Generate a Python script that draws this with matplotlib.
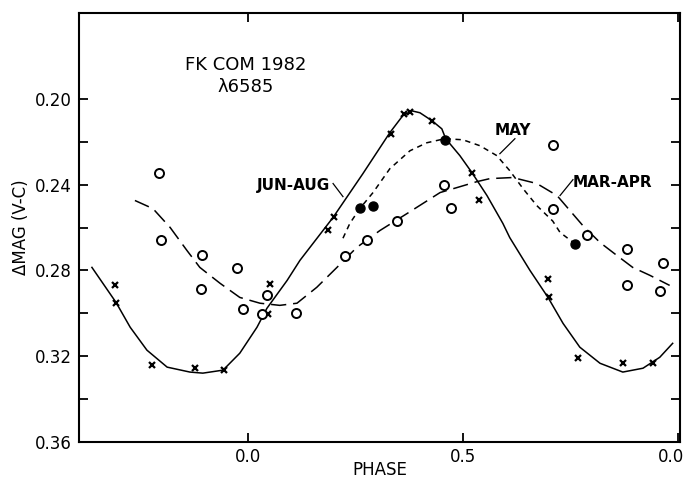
import numpy as np
import matplotlib
matplotlib.use("Agg")
import matplotlib.pyplot as plt
from matplotlib.transforms import ScaledTranslation

plt.rcParams['font.family'] = ['DejaVu Sans']

# JUN-AUG observations (crosses)
jun_phase = [-0.309, -0.307, -0.223, -0.123, -0.056, 0.051, 0.047, 0.186, 0.200,
             0.333, 0.363, 0.377, 0.428, 0.521, 0.537, 0.698, 0.700, 0.767, 0.872, 0.942]
jun_mag = [0.287, 0.295, 0.324, 0.3256, 0.3265, 0.2865, 0.3005, 0.261, 0.255,
           0.2163, 0.207, 0.206, 0.2102, 0.2344, 0.2474, 0.2842, 0.2926, 0.3209, 0.3233, 0.3233]

# MAY observations (filled circles)
may_phase = [0.260, 0.291, 0.458, 0.760]
may_mag = [0.2507, 0.2498, 0.2191, 0.2679]

# MAR-APR observations (open circles)
mar_phase = [-0.207, -0.202, -0.107, -0.109, -0.026, -0.012, 0.033, 0.044, 0.112,
             0.226, 0.277, 0.347, 0.456, 0.472, 0.709, 0.709, 0.788, 0.881, 0.881,
             0.965, 0.958]
mar_mag = [0.2344, 0.2656, 0.2726, 0.2888, 0.2791, 0.2981, 0.3005, 0.2916, 0.300,
           0.2735, 0.266, 0.2572, 0.240, 0.2507, 0.2214, 0.2512, 0.2633, 0.2702, 0.287,
           0.2767, 0.2898]

# fitted curves
jun_curve_x = [-0.363, -0.307, -0.274, -0.235, -0.188, -0.135, -0.105, -0.058, -0.019,
               0.021, 0.044, 0.091, 0.121, 0.198, 0.267, 0.330, 0.360, 0.381, 0.400,
               0.428, 0.451, 0.460, 0.493, 0.521, 0.556, 0.593, 0.609, 0.656, 0.698,
               0.733, 0.772, 0.819, 0.872, 0.919, 0.958, 0.988]
jun_curve_y = [0.2786, 0.2949, 0.3065, 0.3172, 0.3251, 0.3274, 0.3279, 0.3265, 0.3186,
               0.3065, 0.2977, 0.2847, 0.2753, 0.2553, 0.2350, 0.2158, 0.2079, 0.2056, 0.2065,
               0.2102, 0.2140, 0.2186, 0.2265, 0.2344, 0.2451, 0.2581, 0.2647, 0.2800, 0.2926,
               0.3047, 0.3158, 0.3233, 0.3274, 0.3256, 0.3205, 0.3140]

may_curve_x = [0.221, 0.237, 0.260, 0.291, 0.330, 0.377, 0.416, 0.458, 0.500, 0.540,
               0.579, 0.609, 0.640, 0.672, 0.709, 0.726, 0.763]
may_curve_y = [0.2650, 0.2581, 0.2512, 0.2437, 0.2326, 0.2242, 0.2205, 0.2186, 0.2191, 0.2219,
               0.2265, 0.2335, 0.2419, 0.2498, 0.2570, 0.2623, 0.2679]

mar_curve_x = [-0.263, -0.221, -0.181, -0.142, -0.112, -0.065, -0.019, 0.028, 0.074,
               0.114, 0.160, 0.207, 0.253, 0.307, 0.370, 0.447, 0.486, 0.533, 0.563,
               0.616, 0.672, 0.719, 0.749, 0.779, 0.819, 0.858, 0.895, 0.935, 0.981]
mar_curve_y = [0.2474, 0.2512, 0.2600, 0.2707, 0.2786, 0.2860, 0.2926, 0.2953, 0.2963,
               0.2953, 0.2879, 0.2786, 0.2693, 0.2614, 0.2535, 0.2437, 0.2414, 0.2386, 0.2372,
               0.2367, 0.2395, 0.2451, 0.2521, 0.2591, 0.2670, 0.2730, 0.2786, 0.2823, 0.2870]

fig = plt.figure(figsize=(6.89, 4.82), dpi=100)
ax = fig.add_axes([0.1147, 0.083, 0.8722, 0.890])

ax.plot(jun_curve_x, jun_curve_y, color='black', lw=1.1)
ax.plot(may_curve_x, may_curve_y, color='black', lw=1.1, linestyle=(0, (3.5, 3)))
ax.plot(mar_curve_x, mar_curve_y, color='black', lw=1.1, linestyle=(0, (10, 4.5)))

ax.plot(jun_phase, jun_mag, 'x', color='black', ms=5, mew=1.6)
ax.plot(may_phase, may_mag, 'o', color='black', ms=6.5)
ax.plot(mar_phase, mar_mag, 'o', mfc='white', mec='black', ms=6.5, mew=1.4)

# curve labels with leaders
ax.text(0.105, 0.2405, 'JUN-AUG', fontsize=11, ha='center', va='center', fontweight='bold')
ax.plot([0.198, 0.221], [0.2395, 0.2456], color='black', lw=0.9)
ax.text(0.616, 0.2149, 'MAY', fontsize=11, ha='center', va='center', fontweight='bold')
ax.plot([0.621, 0.586], [0.2186, 0.2256], color='black', lw=0.9)
ax.text(0.847, 0.239, 'MAR-APR', fontsize=11, ha='center', va='center', fontweight='bold')
ax.plot([0.756, 0.726], [0.2377, 0.2451], color='black', lw=0.9)

ax.text(-0.005, 0.1842, 'FK COM 1982', fontsize=13, ha='center', va='center')
ax.text(-0.005, 0.1944, 'λ6585', fontsize=13, ha='center', va='center')

ax.set_xlim(-0.393, 1.005)
ax.set_ylim(0.36, 0.16)
ax.set_xticks([0.0, 0.5, 1.0])
ax.set_xticklabels(['0.0', '0.5', '0.0'])
ax.set_yticks([0.20, 0.24, 0.28, 0.32, 0.36])
ax.set_yticklabels(['0.20', '0.24', '0.28', '0.32', '0.36'])
ax.set_yticks([0.22, 0.26, 0.30, 0.34], minor=True)
ax.tick_params(which='both', direction='in', length=6.5, width=1.3,
               top=True, right=True, labelsize=12, pad=5)
ax.tick_params(axis='x', pad=4)
for s in ax.spines.values():
    s.set_linewidth(1.5)

# nudge the last phase label so it stays inside the figure
last = ax.get_xticklabels()[-1]
last.set_transform(last.get_transform() + ScaledTranslation(-5 / 72, 0, fig.dpi_scale_trans))

ax.set_xlabel('PHASE', fontsize=12)
ax.xaxis.set_label_coords(0.5, -0.045)
ax.set_ylabel('ΔMAG (V-C)', fontsize=12, labelpad=4)

fig.savefig('out.png', dpi=100)
